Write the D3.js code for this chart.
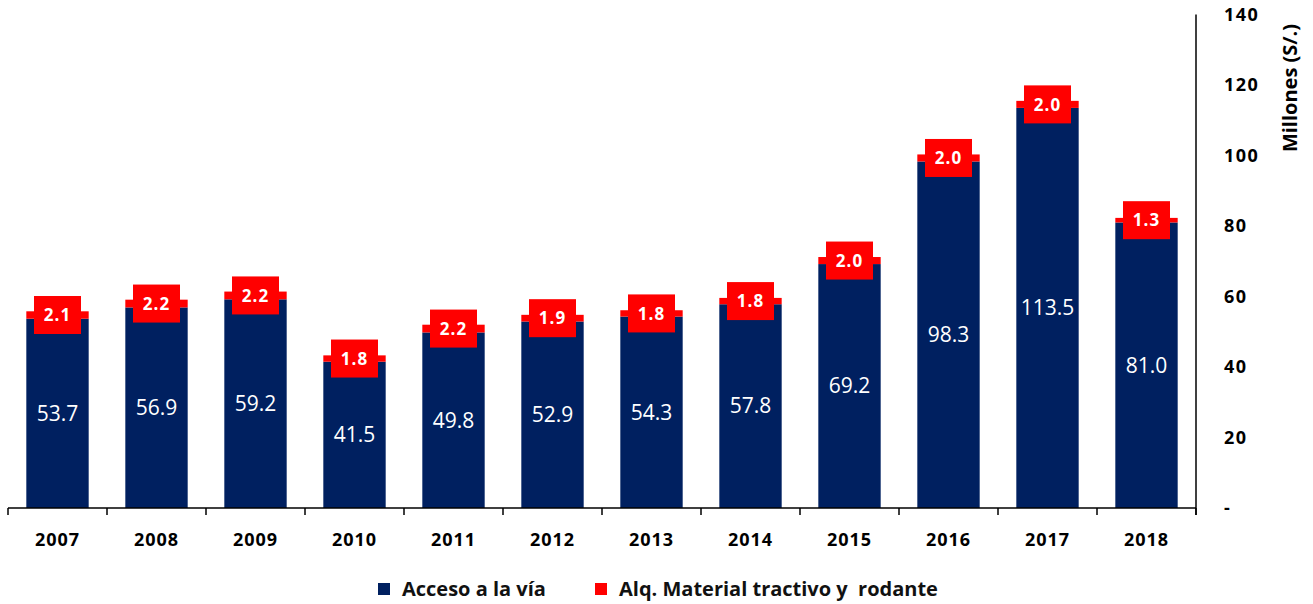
<!DOCTYPE html>
<html><head><meta charset="utf-8">
<script src="https://cdn.jsdelivr.net/npm/d3@7"></script>
<style>body{margin:0;background:#fff}svg{display:block}text{font-family:"Open Sans","Noto Sans",sans-serif}</style>
</head><body><svg id="c" width="1313" height="604"></svg>
<script>
const years = ["2007","2008","2009","2010","2011","2012","2013","2014","2015","2016","2017","2018"];
const acceso = [53.7,56.9,59.2,41.5,49.8,52.9,54.3,57.8,69.2,98.3,113.5,81.0];
const alquiler = [2.1,2.2,2.2,1.8,2.2,1.9,1.8,1.8,2.0,2.0,2.0,1.3];
const yTicks = [0,20,40,60,80,100,120,140];
const seriesNames = ["Acceso a la vía","Alq. Material tractivo y  rodante"];
const colors = ["#002060","#ff0000"];

const svg = d3.select("#c");
const pL = 8, pR = 1196, pT = 14.5, pB = 508;
const x = d3.scaleBand().domain(years).range([pL,pR]).paddingInner(0.37).paddingOuter(0.185);
const xb = d3.scaleBand().domain(years).range([pL,pR]);
const y = d3.scaleLinear().domain([0,140]).range([pB,pT]);

// bars
const g = svg.append("g");
years.forEach((yr,i)=>{
  const a = acceso[i], b = alquiler[i];
  g.append("rect").attr("x",x(yr)).attr("width",x.bandwidth())
    .attr("y",y(a)).attr("height",y(0)-y(a)).attr("fill",colors[0]);
  g.append("rect").attr("x",x(yr)).attr("width",x.bandwidth())
    .attr("y",y(a+b)).attr("height",y(a)-y(a+b)).attr("fill",colors[1]);
  const cx = x(yr)+x.bandwidth()/2;
  g.append("text").attr("x",cx).attr("y",(y(a)+y(0))/2).attr("dy","0.35em")
    .attr("text-anchor","middle").attr("fill","#fff").attr("font-size",21).attr("font-weight",500)
    .text(a.toFixed(1));
  const cy = (y(a)+y(a+b))/2;
  g.append("rect").attr("x",cx-23.5).attr("y",cy-19).attr("width",47).attr("height",38).attr("fill",colors[1]);
  g.append("text").attr("x",cx).attr("y",cy).attr("dy","0.36em")
    .attr("text-anchor","middle").attr("fill","#fff").attr("font-size",17).attr("font-weight","bold")
    .attr("letter-spacing",1).text(b.toFixed(1));
});

// x axis
const xa = svg.append("g");
xa.append("line").attr("x1",pL).attr("x2",pR).attr("y1",pB).attr("y2",pB).attr("stroke","#000").attr("stroke-width",1.5);
years.concat(["end"]).forEach((yr,i)=>{
  const xx = i<years.length ? xb(yr) : pR;
  xa.append("line").attr("x1",xx).attr("x2",xx).attr("y1",pB).attr("y2",pB+7).attr("stroke","#000").attr("stroke-width",1.5);
});
years.forEach(yr=>{
  xa.append("text").attr("x",xb(yr)+xb.bandwidth()/2).attr("y",546).attr("text-anchor","middle")
    .attr("font-size",18).attr("font-weight","bold").attr("letter-spacing",1).attr("fill","#000").text(yr);
});

// y axis right
const ya = svg.append("g");
ya.append("line").attr("x1",pR).attr("x2",pR).attr("y1",pT).attr("y2",pB+7).attr("stroke","#000").attr("stroke-width",1.5);
yTicks.forEach(t=>{
  ya.append("text").attr("x",1224).attr("y",y(t)).attr("dy","0.35em")
    .attr("font-size",18).attr("font-weight","bold").attr("letter-spacing",1.5).attr("fill","#000").text(t===0?"-":String(t));
});
svg.append("text").attr("transform","translate(1297,88) rotate(-90)").attr("text-anchor","middle")
  .attr("font-size",20).attr("font-weight","bold").attr("fill","#000").text("Millones (S/.)");

// legend
const lg = svg.append("g");
const lx = [378,595];
seriesNames.forEach((n,i)=>{
  lg.append("rect").attr("x",lx[i]).attr("y",583).attr("width",12).attr("height",12).attr("fill",colors[i]);
  lg.append("text").attr("x",lx[i]+24).attr("y",589).attr("dy","0.35em").attr("font-size",20)
    .attr("font-weight","bold").attr("fill","#111").style("white-space","pre").text(n);
});
</script></body></html>
